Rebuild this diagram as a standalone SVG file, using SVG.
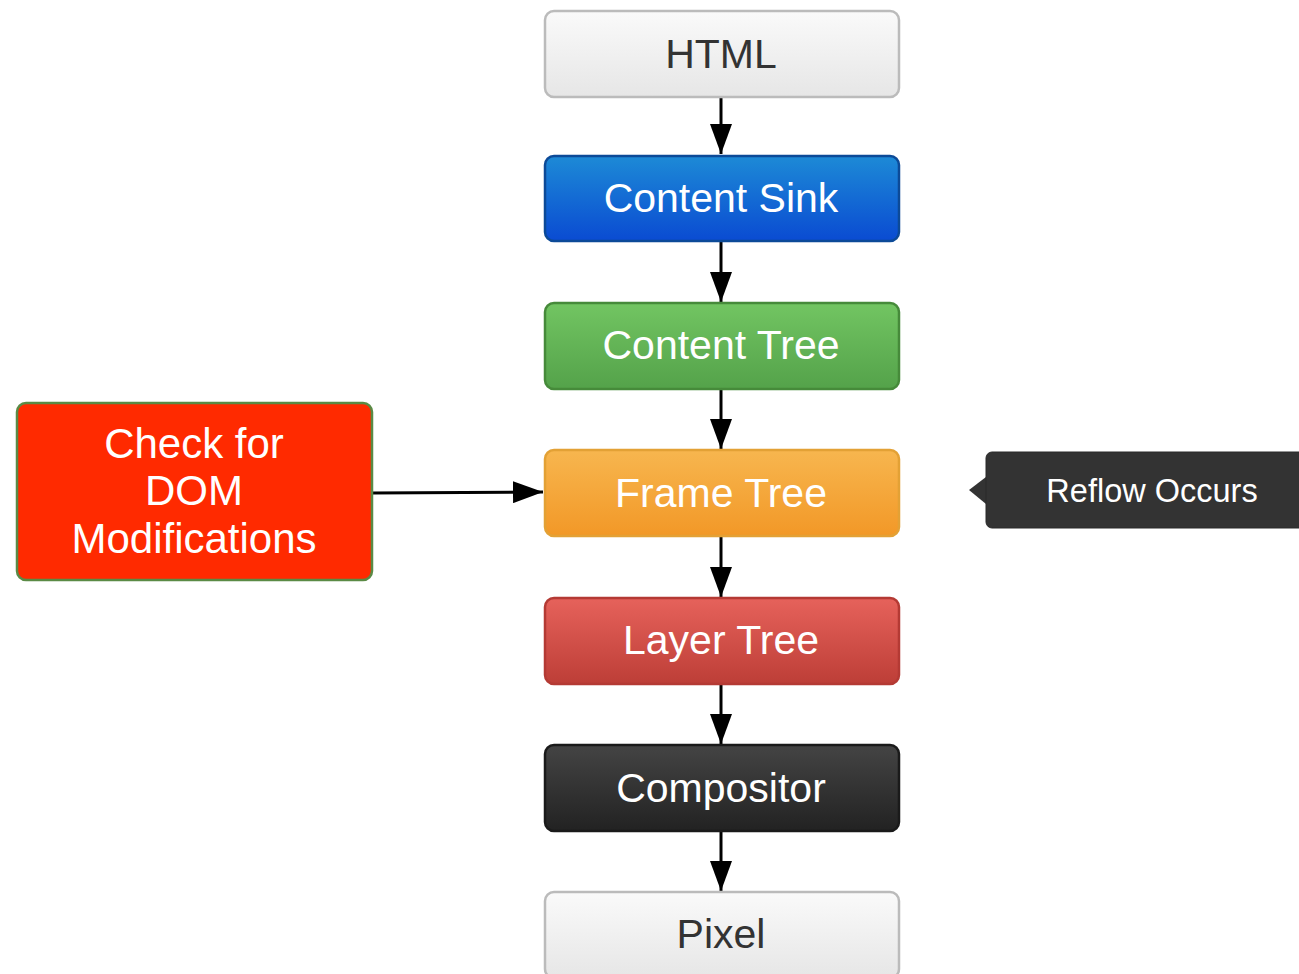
<svg xmlns="http://www.w3.org/2000/svg" width="1299" height="974" viewBox="0 0 1299 974">
<style>
  .box { stroke-width: 2.5; }
  .lbl { font-family: "Liberation Sans", Arial, Helvetica, sans-serif; font-size: 41px; text-anchor: middle; fill: #ffffff; }
  .dark { fill: #333333; }
  .conn { stroke: #000000; stroke-width: 3; fill: none; marker-end: url(#arrow); }
</style>
<defs>
  <marker id="arrow" viewBox="0 0 30 22" refX="30" refY="11" markerWidth="30" markerHeight="22" markerUnits="userSpaceOnUse" orient="auto">
    <path d="M0,0 L30,11 L0,22 z" fill="#000"/>
  </marker>
  <linearGradient id="gWhite" x1="0" y1="0" x2="0" y2="1"><stop offset="0" stop-color="#fafafa"/><stop offset="1" stop-color="#e6e6e6"/></linearGradient>
  <linearGradient id="gBlue" x1="0" y1="0" x2="0" y2="1"><stop offset="0" stop-color="#1d8ad6"/><stop offset="1" stop-color="#0a4bd2"/></linearGradient>
  <linearGradient id="gGreen" x1="0" y1="0" x2="0" y2="1"><stop offset="0" stop-color="#72c562"/><stop offset="1" stop-color="#54a24a"/></linearGradient>
  <linearGradient id="gOrange" x1="0" y1="0" x2="0" y2="1"><stop offset="0" stop-color="#f7b64f"/><stop offset="1" stop-color="#f29827"/></linearGradient>
  <linearGradient id="gRed" x1="0" y1="0" x2="0" y2="1"><stop offset="0" stop-color="#e6625b"/><stop offset="1" stop-color="#bd3e37"/></linearGradient>
  <linearGradient id="gBlack" x1="0" y1="0" x2="0" y2="1"><stop offset="0" stop-color="#444444"/><stop offset="1" stop-color="#222222"/></linearGradient>
</defs>

<g id="connectors">
  <line class="conn" x1="721" y1="97" x2="721" y2="154"/>
  <line class="conn" x1="721" y1="241" x2="721" y2="302"/>
  <line class="conn" x1="721" y1="389" x2="721" y2="449"/>
  <line class="conn" x1="721" y1="536" x2="721" y2="597"/>
  <line class="conn" x1="721" y1="684" x2="721" y2="744"/>
  <line class="conn" x1="721" y1="831" x2="721" y2="891"/>
  <line class="conn" x1="372" y1="493" x2="543" y2="492"/>
</g>

<g id="html">
  <rect class="box" x="545" y="11" width="354" height="86" rx="9" fill="url(#gWhite)" stroke="#bbbbbb"/>
  <text class="lbl dark" x="721" y="68">HTML</text>
</g>
<g id="content-sink">
  <rect class="box" x="545" y="156" width="354" height="85" rx="9" fill="url(#gBlue)" stroke="#0c4a98"/>
  <text class="lbl" x="721" y="212">Content Sink</text>
</g>
<g id="content-tree">
  <rect class="box" x="545" y="303" width="354" height="86" rx="9" fill="url(#gGreen)" stroke="#468a3a"/>
  <text class="lbl" x="721" y="359">Content Tree</text>
</g>
<g id="frame-tree">
  <rect class="box" x="545" y="450" width="354" height="86" rx="9" fill="url(#gOrange)" stroke="#e3a135"/>
  <text class="lbl" x="721" y="507">Frame Tree</text>
</g>
<g id="layer-tree">
  <rect class="box" x="545" y="598" width="354" height="86" rx="9" fill="url(#gRed)" stroke="#b43a34"/>
  <text class="lbl" x="721" y="654">Layer Tree</text>
</g>
<g id="compositor">
  <rect class="box" x="545" y="745" width="354" height="86" rx="9" fill="url(#gBlack)" stroke="#1a1a1a"/>
  <text class="lbl" x="721" y="802">Compositor</text>
</g>
<g id="pixel">
  <rect class="box" x="545" y="892" width="354" height="86" rx="9" fill="url(#gWhite)" stroke="#bbbbbb"/>
  <text class="lbl dark" x="721" y="948">Pixel</text>
</g>

<g id="check-dom">
  <rect class="box" x="17" y="403" width="355" height="177" rx="9" fill="#ff2a00" stroke="#5a8a45"/>
  <text class="lbl" x="194" y="458" style="font-size:42px">Check for</text>
  <text class="lbl" x="194" y="505" style="font-size:42px">DOM</text>
  <text class="lbl" x="194" y="553" style="font-size:42px">Modifications</text>
</g>

<g id="reflow">
  <polygon points="969,490 986,477 986,504" fill="#333333"/>
  <rect x="986" y="452" width="330" height="76" rx="6" fill="#333333" stroke="#2a2a2a"/>
  <text x="1152" y="502" font-family="Liberation Sans, Arial, sans-serif" font-size="32.5" text-anchor="middle" fill="#ffffff">Reflow Occurs</text>
</g>
</svg>
